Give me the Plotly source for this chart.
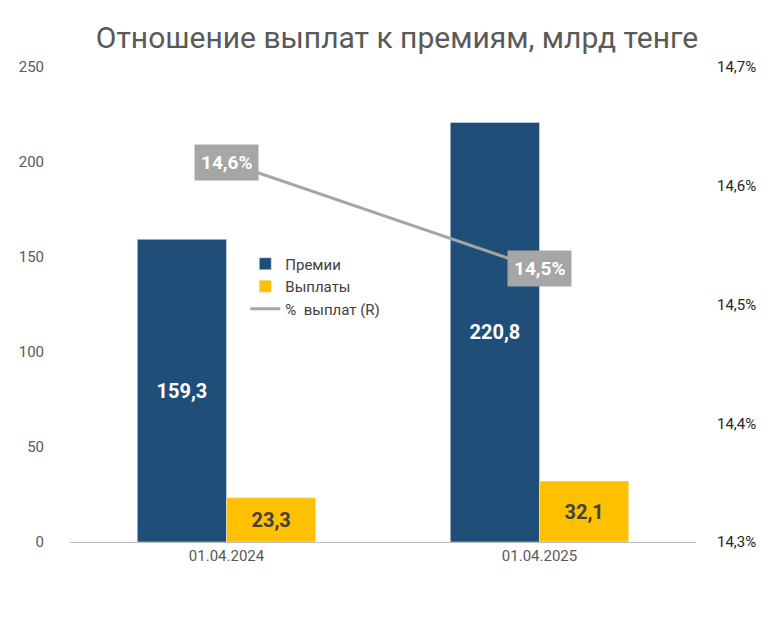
import plotly.graph_objects as go

# data
dates = ["01.04.2024", "01.04.2025"]
premii = [159.3, 220.8]
vyplaty = [23.3, 32.1]
ratio = [14.62, 14.53]
ratio_labels = ["14,6%", "14,5%"]

FONT = "Roboto"

fig = go.Figure()
fig.add_trace(go.Bar(x=dates, y=premii, name="Премии", marker_color="#1F4E79",
                     text=[f"<b>{v:.1f}</b>".replace(".", ",") for v in premii],
                     textposition="inside", insidetextanchor="middle",
                     textfont=dict(color="white", size=20, family=FONT)))
fig.add_trace(go.Bar(x=dates, y=vyplaty, name="Выплаты", marker_color="#FFC000",
                     text=[f"<b>{v:.1f}</b>".replace(".", ",") for v in vyplaty],
                     textposition="inside", insidetextanchor="middle",
                     textfont=dict(color="#404040", size=20, family=FONT)))
fig.add_trace(go.Scatter(x=dates, y=ratio, name="%  выплат (R)", yaxis="y2",
                         mode="lines", line=dict(color="#A6A6A6", width=3)))

for d, r, t in zip(dates, ratio, ratio_labels):
    fig.add_annotation(x=d, y=r, yref="y2", text=f"<b>{t}</b>", showarrow=False,
                       bgcolor="#A6A6A6", font=dict(color="white", size=19, family=FONT),
                       borderpad=6)

fig.update_layout(
    width=778, height=624,
    paper_bgcolor="white", plot_bgcolor="white",
    margin=dict(l=62, r=90, t=59, b=90),
    title=dict(text="Отношение выплат к премиям, млрд тенге", x=0.5, y=0.97,
               font=dict(family=FONT, size=30, color="#595959")),
    barmode="group", bargap=0.43, bargroupgap=0,
    font=dict(family=FONT, size=15, color="#595959"),
    xaxis=dict(showline=True, linecolor="#BFBFBF", ticks="", tickfont=dict(size=15)),
    yaxis=dict(range=[0, 250], dtick=50, showgrid=False, zeroline=False,
               tickfont=dict(size=15), ticklabelstandoff=25),
    yaxis2=dict(range=[14.3, 14.7], overlaying="y", side="right",
                showgrid=False, zeroline=False,
                tickvals=[14.3, 14.4, 14.5, 14.6, 14.7],
                ticktext=["14,3%", "14,4%", "14,5%", "14,6%", "14,7%"],
                tickfont=dict(size=15, color="#262626"), ticklabelstandoff=20),
    legend=dict(x=0.28, y=0.62, xanchor="left", yanchor="top",
                bgcolor="rgba(0,0,0,0)", font=dict(size=15, color="#404040"),
                tracegroupgap=8),
    showlegend=True,
)

fig.write_html("out.html")
